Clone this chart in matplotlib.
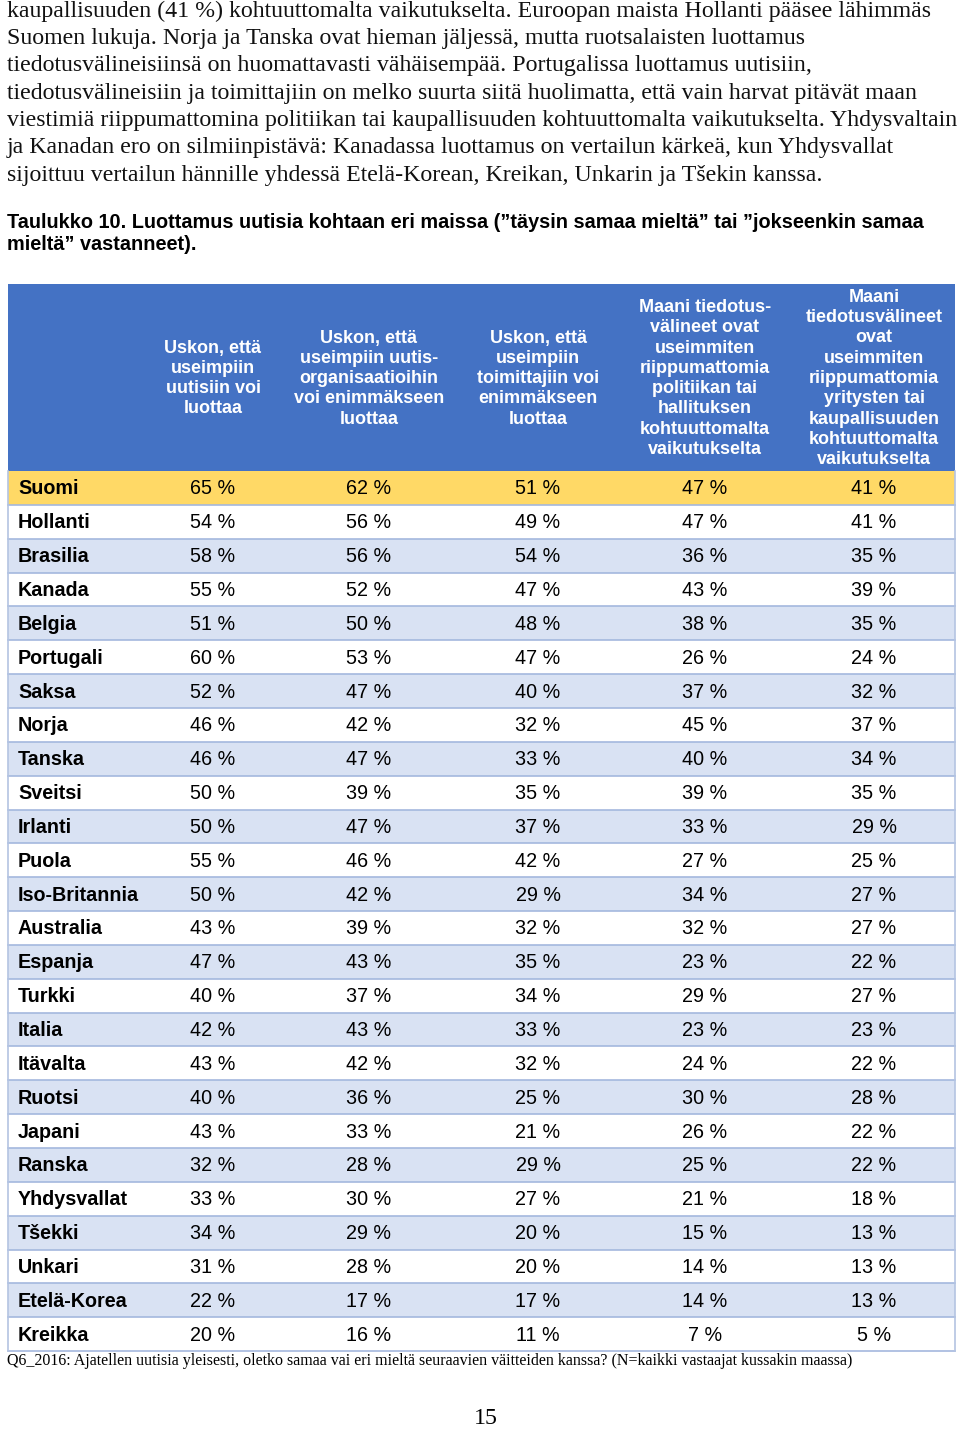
import matplotlib
matplotlib.use('Agg')
from matplotlib import pyplot as plt

# page text
body_lines = [
    'kaupallisuuden (41 %) kohtuuttomalta vaikutukselta. Euroopan maista Hollanti pääsee lähimmäs',
    'Suomen lukuja. Norja ja Tanska ovat hieman jäljessä, mutta ruotsalaisten luottamus',
    'tiedotusvälineisiinsä on huomattavasti vähäisempää. Portugalissa luottamus uutisiin,',
    'tiedotusvälineisiin ja toimittajiin on melko suurta siitä huolimatta, että vain harvat pitävät maan',
    'viestimiä riippumattomina politiikan tai kaupallisuuden kohtuuttomalta vaikutukselta. Yhdysvaltain',
    'ja Kanadan ero on silmiinpistävä: Kanadassa luottamus on vertailun kärkeä, kun Yhdysvallat',
    'sijoittuu vertailun hännille yhdessä Etelä-Korean, Kreikan, Unkarin ja Tšekin kanssa.',
]
caption_lines = [
    'Taulukko 10. Luottamus uutisia kohtaan eri maissa (\u201dtäysin samaa mieltä\u201d tai \u201djokseenkin samaa',
    'mieltä\u201d vastanneet).',
]
footnote = ('Q6_2016: Ajatellen uutisia yleisesti, oletko samaa vai eri mieltä seuraavien väitteiden kanssa? '
            '(N=kaikki vastaajat kussakin maassa)')
page_no = '15'

# table data
headers = [
    'Uskon, että\nuseimpiin\nuutisiin voi\nluottaa',
    'Uskon, että\nuseimpiin uutis-\norganisaatioihin\nvoi enimmäkseen\nluottaa',
    'Uskon, että\nuseimpiin\ntoimittajiin voi\nenimmäkseen\nluottaa',
    'Maani tiedotus-\nvälineet ovat\nuseimmiten\nriippumattomia\npolitiikan tai\nhallituksen\nkohtuuttomalta\nvaikutukselta',
    'Maani\ntiedotusvälineet\novat\nuseimmiten\nriippumattomia\nyritysten tai\nkaupallisuuden\nkohtuuttomalta\nvaikutukselta',
]
countries = ['Suomi', 'Hollanti', 'Brasilia', 'Kanada', 'Belgia', 'Portugali', 'Saksa', 'Norja',
             'Tanska', 'Sveitsi', 'Irlanti', 'Puola', 'Iso-Britannia', 'Australia', 'Espanja',
             'Turkki', 'Italia', 'Itävalta', 'Ruotsi', 'Japani', 'Ranska', 'Yhdysvallat', 'Tšekki',
             'Unkari', 'Etelä-Korea', 'Kreikka']
trust_news = [65, 54, 58, 55, 51, 60, 52, 46, 46, 50, 50, 55, 50, 43, 47, 40, 42, 43, 40, 43, 32, 33, 34, 31, 22, 20]
trust_orgs = [62, 56, 56, 52, 50, 53, 47, 42, 47, 39, 47, 46, 42, 39, 43, 37, 43, 42, 36, 33, 28, 30, 29, 28, 17, 16]
trust_journalists = [51, 49, 54, 47, 48, 47, 40, 32, 33, 35, 37, 42, 29, 32, 35, 34, 33, 32, 25, 21, 29, 27, 20, 20, 17, 11]
indep_politics = [47, 47, 36, 43, 38, 26, 37, 45, 40, 39, 33, 27, 34, 32, 23, 29, 23, 24, 30, 26, 25, 21, 15, 14, 14, 7]
indep_business = [41, 41, 35, 39, 35, 24, 32, 37, 34, 35, 29, 25, 27, 27, 22, 27, 23, 22, 28, 22, 22, 18, 13, 13, 13, 5]
columns = [trust_news, trust_orgs, trust_journalists, indep_politics, indep_business]

serif = 'Liberation Serif'
sans = 'Liberation Sans'

fig = plt.figure(figsize=(9.6, 14.3), dpi=100)
ax = fig.add_axes([0, 0, 1, 1])
ax.set_xlim(0, 960)
ax.set_ylim(1430, 0)
ax.axis('off')

# body text
for i, line in enumerate(body_lines):
    ax.text(7, 11 + i * 27.4, line, fontsize=17.2, family=serif, color='#111111', va='center', ha='left')

for i, line in enumerate(caption_lines):
    ax.text(7, 222 + i * 23, line, fontsize=14.3, family=sans, weight='bold', va='center', ha='left')

# table geometry
left, right = 8, 955
head_top, head_bot = 284, 471
row_h = 33.85
col_x = [213, 369, 538, 705, 874]

ax.barh((head_top + head_bot) / 2, right - left, height=head_bot - head_top, left=left,
        color='#4472C4', edgecolor='none')
for c, h in zip(col_x, headers):
    ax.text(c, (head_top + head_bot) / 2 + 1, h, color='white', fontsize=13, family=sans, weight='bold',
            ha='center', va='center', linespacing=1.25, multialignment='center')

for r, name in enumerate(countries):
    yc = head_bot + (r + 0.5) * row_h
    if r == 0:
        bg = '#FFD966'
    elif r % 2 == 0:
        bg = '#D9E2F3'
    else:
        bg = 'white'
    ax.barh(yc, right - left, height=row_h, left=left, color=bg, edgecolor='none')
    ax.plot([left, right], [yc + row_h / 2, yc + row_h / 2], color='#A4B8DE', lw=1.2)
    ax.text(18, yc + 1, name, fontsize=14.2, family=sans, weight='bold', va='center', ha='left')
    for c, vals in zip(col_x, columns):
        ax.text(c, yc + 1, f'{vals[r]} %', fontsize=14.2, family=sans, va='center', ha='center')

table_bot = head_bot + len(countries) * row_h
ax.plot([left, left], [head_bot, table_bot], color='#B4C4E2', lw=1.2)
ax.plot([right, right], [head_bot, table_bot], color='#B4C4E2', lw=1.2)

ax.text(7, 1361, footnote, fontsize=11.5, family=serif, va='center', ha='left')
ax.text(486, 1418, page_no, fontsize=17.2, family=serif, va='center', ha='center')

fig.savefig('out.png', dpi=100, facecolor='white')
